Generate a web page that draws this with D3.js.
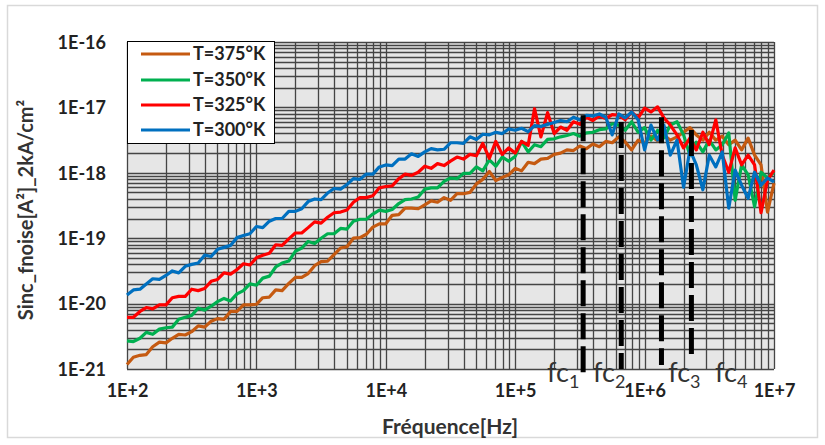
<!DOCTYPE html>
<html><head><meta charset="utf-8">
<script src="https://cdn.jsdelivr.net/npm/d3@7"></script>
<style>body{margin:0;background:#fff;} svg{display:block;font-family:Lato,'Open Sans',sans-serif;}</style>
</head><body><svg id="c" width="825" height="445"></svg>
<script>
const freq = [100,112,126,141,158,178,200,224,251,282,316,355,398,447,501,562,631,708,794,891,
1000,1120,1260,1410,1580,1780,2000,2240,2510,2820,3160,3550,3980,4470,5010,5620,6310,7080,7940,8910,
1e4,1.12e4,1.26e4,1.41e4,1.58e4,1.78e4,2e4,2.24e4,2.51e4,2.82e4,3.16e4,3.55e4,3.98e4,4.47e4,5.01e4,5.62e4,6.31e4,7.08e4,7.94e4,8.91e4,
1e5,1.12e5,1.26e5,1.41e5,1.58e5,1.78e5,2e5,2.24e5,2.51e5,2.82e5,3.16e5,3.55e5,3.98e5,4.47e5,5.01e5,5.62e5,6.31e5,7.08e5,7.94e5,8.91e5,
1e6,1.12e6,1.26e6,1.41e6,1.58e6,1.78e6,2e6,2.24e6,2.51e6,2.82e6,3.16e6,3.55e6,3.98e6,4.47e6,5.01e6,5.62e6,6.31e6,7.08e6,7.94e6,8.91e6,
1e7];

const t375 = [1.17e-21,1.51e-21,1.62e-21,1.66e-21,2.19e-21,2.57e-21,2.51e-21,2.95e-21,3.39e-21,3.31e-21,
3.72e-21,4.57e-21,4.37e-21,5.37e-21,5.89e-21,5.75e-21,7.59e-21,7.59e-21,9.55e-21,9.55e-21,
9.77e-21,1.23e-20,1.26e-20,1.62e-20,1.58e-20,2.04e-20,2.51e-20,2.51e-20,2.88e-20,3.80e-20,
4.37e-20,4.47e-20,5.62e-20,7.08e-20,7.41e-20,1.00e-19,1.02e-19,1.15e-19,1.48e-19,1.66e-19,
1.66e-19,2.24e-19,2.29e-19,2.88e-19,2.88e-19,2.82e-19,3.24e-19,3.72e-19,3.55e-19,4.17e-19,
3.80e-19,4.79e-19,4.79e-19,5.01e-19,6.76e-19,
7.94e-19,1.05e-18,7.59e-19,8.51e-19,9.33e-19,
1.17e-18,1.07e-18,1.45e-18,1.38e-18,1.62e-18,1.66e-18,1.91e-18,2.00e-18,2.24e-18,2.19e-18,
2.57e-18,2.34e-18,2.75e-18,2.51e-18,3.02e-18,2.88e-18,3.55e-18,2.95e-18,2.24e-18,3.16e-18,
2.88e-18,3.63e-18,3.09e-18,3.80e-18,3.16e-18,3.55e-18,4.17e-18,4.90e-18,3.80e-18,3.16e-18,
4.17e-18,3.16e-18,3.63e-18,2.69e-18,3.16e-18,2.24e-18,3.39e-18,1.86e-18,1.32e-18,2.51e-19,
6.92e-19];

const t350 = [2.69e-21,2.63e-21,2.95e-21,3.63e-21,3.39e-21,4.07e-21,4.27e-21,4.37e-21,5.75e-21,6.17e-21,
6.61e-21,8.51e-21,7.94e-21,9.12e-21,1.07e-20,1.20e-20,1.10e-20,1.41e-20,1.58e-20,2.00e-20,
1.91e-20,2.45e-20,2.63e-20,3.63e-20,4.17e-20,4.47e-20,6.31e-20,7.08e-20,8.91e-20,8.32e-20,
1.00e-19,1.17e-19,1.17e-19,1.41e-19,1.38e-19,1.82e-19,1.95e-19,1.95e-19,2.34e-19,2.69e-19,
2.57e-19,2.75e-19,3.39e-19,3.89e-19,3.98e-19,4.27e-19,5.62e-19,5.89e-19,5.89e-19,7.41e-19,
8.32e-19,8.13e-19,9.77e-19,9.77e-19,1.23e-18,
1.07e-18,1.58e-18,1.26e-18,1.74e-18,1.51e-18,
1.78e-18,3.02e-18,2.09e-18,2.69e-18,2.51e-18,3.24e-18,3.31e-18,3.55e-18,3.72e-18,3.98e-18,
3.63e-18,4.07e-18,4.17e-18,4.57e-18,4.68e-18,5.62e-18,5.37e-18,4.47e-18,6.03e-18,4.17e-18,
4.90e-18,3.16e-18,4.47e-18,3.39e-18,5.37e-18,6.03e-18,3.80e-18,1.86e-18,2.95e-18,2.09e-18,
3.16e-18,2.24e-18,2.69e-18,4.07e-18,3.80e-19,1.32e-18,9.33e-19,3.02e-19,1.02e-18,8.32e-19,
1.02e-18];

const t325 = [6.17e-21,6.17e-21,7.59e-21,8.71e-21,8.32e-21,9.55e-21,9.55e-21,1.23e-20,1.29e-20,1.29e-20,
1.66e-20,1.58e-20,1.70e-20,2.19e-20,2.34e-20,2.95e-20,2.82e-20,3.31e-20,4.07e-20,3.89e-20,
5.01e-20,5.50e-20,5.89e-20,7.94e-20,7.76e-20,9.77e-20,1.20e-19,1.20e-19,1.45e-19,1.78e-19,
1.70e-19,2.09e-19,2.45e-19,2.51e-19,2.69e-19,3.55e-19,4.17e-19,4.17e-19,4.47e-19,5.89e-19,
6.17e-19,6.31e-19,8.13e-19,9.55e-19,9.12e-19,1.02e-18,1.26e-18,1.17e-18,1.38e-18,1.29e-18,
1.51e-18,1.74e-18,1.62e-18,1.91e-18,1.82e-18,
2.82e-18,1.66e-18,3.02e-18,1.91e-18,2.40e-18,
2.00e-18,3.02e-18,2.63e-18,9.55e-18,3.55e-18,8.32e-18,3.98e-18,5.01e-18,4.47e-18,6.03e-18,
5.50e-18,7.08e-18,6.31e-18,7.41e-18,6.76e-18,7.76e-18,7.59e-18,6.46e-18,8.51e-18,6.92e-18,
9.77e-18,8.51e-18,1.02e-17,6.92e-18,5.37e-18,3.80e-18,2.40e-18,3.39e-18,2.24e-18,4.17e-18,
2.69e-18,6.46e-18,1.86e-18,1.02e-18,2.40e-18,1.32e-18,1.86e-18,1.32e-18,2.45e-19,7.76e-19,
1.10e-18];

const t300 = [1.35e-20,1.62e-20,1.66e-20,2.00e-20,2.40e-20,2.34e-20,2.69e-20,3.16e-20,2.95e-20,3.72e-20,
3.98e-20,4.17e-20,5.50e-20,5.25e-20,6.76e-20,7.24e-20,7.76e-20,1.02e-19,1.10e-19,1.17e-19,
1.51e-19,1.45e-19,1.82e-19,2.00e-19,2.00e-19,2.57e-19,2.57e-19,2.82e-19,3.63e-19,3.98e-19,
3.89e-19,4.90e-19,5.75e-19,5.62e-19,6.61e-19,8.13e-19,7.94e-19,9.55e-19,9.55e-19,1.23e-18,
1.32e-18,1.29e-18,1.62e-18,1.62e-18,1.95e-18,1.78e-18,2.09e-18,2.34e-18,2.24e-18,2.29e-18,
2.88e-18,2.88e-18,2.82e-18,3.55e-18,3.24e-18,
3.89e-18,3.80e-18,4.17e-18,3.98e-18,4.68e-18,
4.47e-18,4.79e-18,4.27e-18,5.25e-18,5.13e-18,5.50e-18,5.89e-18,6.31e-18,6.03e-18,7.08e-18,
6.46e-18,7.59e-18,7.41e-18,7.94e-18,7.08e-18,3.80e-18,7.94e-18,6.92e-18,8.51e-18,6.46e-18,
2.24e-18,5.37e-18,3.16e-18,5.37e-18,1.86e-18,3.16e-18,6.03e-19,2.24e-18,1.32e-18,5.50e-19,
1.86e-18,1.23e-18,2.09e-18,2.88e-19,1.10e-18,6.46e-19,4.07e-19,1.02e-18,6.46e-19,8.32e-19,
7.24e-19];

const seriesNames = ["T=375°K","T=350°K","T=325°K","T=300°K"];
const seriesColors = ["#C55A11","#00B050","#FF0000","#0070C0"];
const seriesValues = [t375, t350, t325, t300];

const xTickValues = [1e2,1e3,1e4,1e5,1e6,1e7];
const xTickLabels = ["1E+2","1E+3","1E+4","1E+5","1E+6","1E+7"];
const yTickValues = [1e-21,1e-20,1e-19,1e-18,1e-17,1e-16];
const yTickLabels = ["1E-21","1E-20","1E-19","1E-18","1E-17","1E-16"];

const fcFreq = [3.35e5, 6.6e5, 1.35e6, 2.3e6];
const fcTop = [7.6e-18, 6.0e-18, 7.1e-18, 4.5e-18];
const fcBottom = [8.9e-22, 1.0e-21, 1.15e-21, 1.5e-21];
const fcLabelFreq = [1.76e5, 3.99e5, 1.52e6, 3.5e6];
const fcSubs = ["1","2","3","4"];

const xTitle = "Fréquence[Hz]";
const yTitle = "Sinc_fnoise[A²]_2kA/cm²";

const svg = d3.select("#c");
const L = 127, R = 774, T = 42, B = 369;
const x = d3.scaleLog().domain([1e2,1e7]).range([L,R]);
const y = d3.scaleLog().domain([1e-21,1e-16]).range([B,T]);

svg.append("rect").attr("x",7.5).attr("y",5.5).attr("width",810).attr("height",432)
  .attr("fill","#fff").attr("stroke","#d9d9d9").attr("stroke-width",1.5);

svg.append("rect").attr("x",L).attr("y",T).attr("width",R-L).attr("height",B-T).attr("fill","#e6e6e6");

const grid = svg.append("g").attr("stroke","#454545").attr("stroke-width",1.3);
grid.selectAll("line.v").data(x.ticks()).join("line")
  .attr("x1",d=>Math.round(x(d))+0.5).attr("x2",d=>Math.round(x(d))+0.5).attr("y1",T).attr("y2",B);
grid.selectAll("line.h").data(y.ticks()).join("line")
  .attr("y1",d=>Math.round(y(d))+0.5).attr("y2",d=>Math.round(y(d))+0.5).attr("x1",L).attr("x2",R);

const xAxis = d3.axisBottom(x).tickValues(xTickValues).tickSize(0).tickPadding(0)
  .tickFormat((d,i)=>xTickLabels[i]);
const gx = svg.append("g").attr("transform",`translate(0,${B})`).call(xAxis);
gx.select(".domain").remove();
gx.selectAll("text").attr("y",28).attr("dy","0").attr("font-family","Lato, sans-serif")
  .attr("font-size",18).attr("font-weight","bold").attr("fill","#222");

const yAxis = d3.axisLeft(y).tickValues(yTickValues).tickSize(0).tickPadding(0)
  .tickFormat((d,i)=>yTickLabels[i]);
const gy = svg.append("g").attr("transform",`translate(${L},0)`).call(yAxis);
gy.select(".domain").remove();
gy.selectAll("text").attr("x",-21).attr("dy","0.35em").attr("font-family","Lato, sans-serif")
  .attr("font-size",18).attr("font-weight","bold").attr("fill","#222");

const line = d3.line().x((d,i)=>x(freq[i])).y(d=>y(d));
seriesValues.forEach((vals,k)=>{
  svg.append("path").datum(vals).attr("d",line).attr("fill","none")
    .attr("stroke",seriesColors[k]).attr("stroke-width",3.2).attr("stroke-linejoin","round");
});

fcFreq.forEach((f,i)=>{
  svg.append("line").attr("x1",x(f)).attr("x2",x(f)).attr("y1",y(fcTop[i])).attr("y2",y(fcBottom[i]))
    .attr("stroke","#000").attr("stroke-width",5).attr("stroke-dasharray","26,7");
  const t = svg.append("text").attr("x",x(fcLabelFreq[i])).attr("y",B+13)
    .attr("font-family","Lato, sans-serif").attr("font-size",27).attr("fill","#333");
  t.append("tspan").text("fc");
  t.append("tspan").attr("font-size",18).attr("dy",6).text(fcSubs[i]);
});

const lg = svg.append("g");
lg.append("rect").attr("x",127.5).attr("y",41.5).attr("width",147).attr("height",102)
  .attr("fill","#fff").attr("stroke","#000").attr("stroke-width",1);
const rows = [54,80,105,130];
seriesNames.forEach((n,i)=>{
  lg.append("line").attr("x1",141).attr("x2",190).attr("y1",rows[i]).attr("y2",rows[i])
    .attr("stroke",seriesColors[i]).attr("stroke-width",3);
  lg.append("text").attr("x",193).attr("y",rows[i]).attr("dy","0.35em")
    .attr("font-size",18).attr("font-weight","bold").attr("fill","#222").text(n);
});

svg.append("text").attr("x",450).attr("y",434).attr("text-anchor","middle")
  .attr("font-size",21).attr("font-weight","bold").attr("fill","#333").text(xTitle);
svg.append("text").attr("transform","translate(33,210) rotate(-90)").attr("text-anchor","middle")
  .attr("font-size",20).attr("font-weight","bold").attr("fill","#333").text(yTitle);
</script></body></html>
